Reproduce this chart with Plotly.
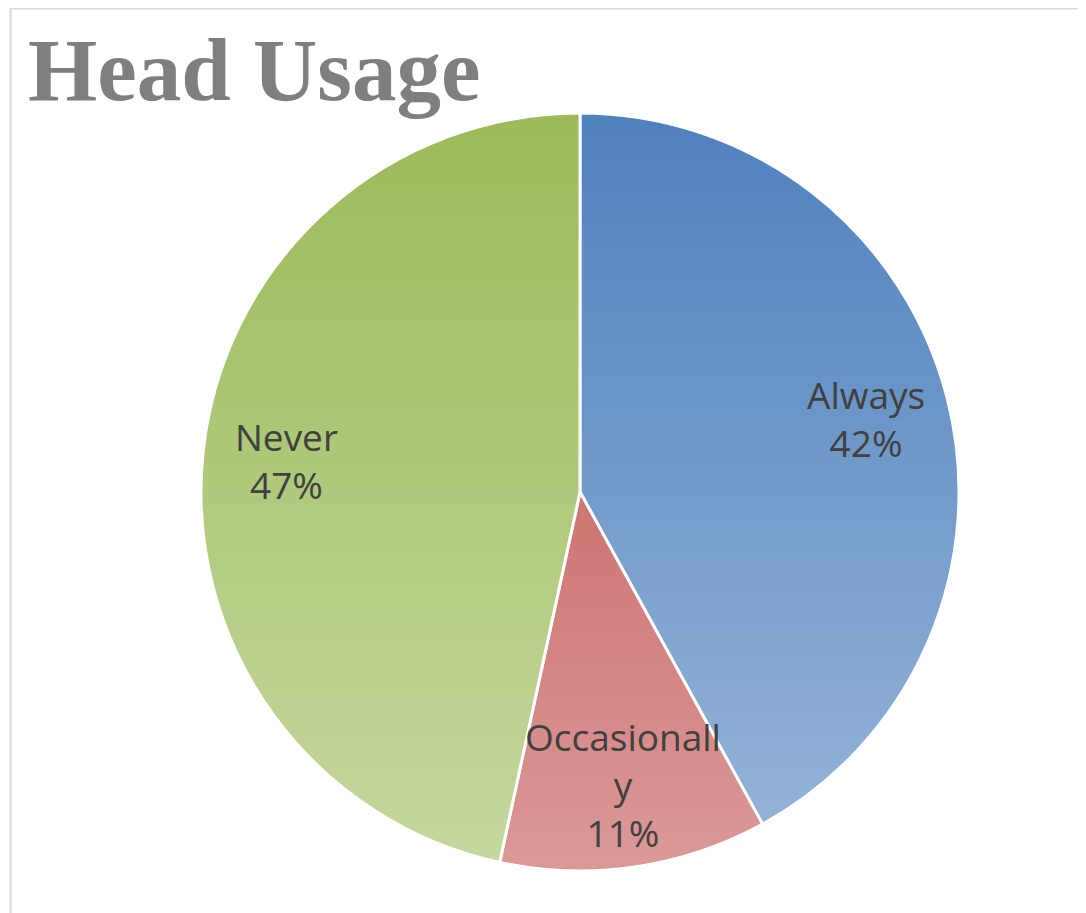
import base64
import math
import plotly.graph_objects as go

categories = ["Always", "Occasionally", "Never"]
values = [42.0, 11.4, 46.6]
label_text = ["Always<br>42%", "Occasionall<br>y<br>11%", "Never<br>47%"]
colors = ["#4F81BD", "#C0504D", "#9BBB59"]

W, H = 1086, 913
CX, CY, R = 572, 484, 379   # pie centre / radius in px (page offset already removed)
LABEL_R = 0.78

fig = go.Figure()
fig.add_trace(go.Pie(
    labels=categories,
    values=values,
    textinfo="none",
    marker=dict(colors=colors, line=dict(color="white", width=3)),
    sort=False,
    direction="clockwise",
    rotation=0,
    domain=dict(x=[(CX - R) / W, (CX + R) / W], y=[1 - (CY + R) / H, 1 - (CY - R) / H]),
    showlegend=False,
    hoverinfo="label+percent",
))

# vertical white gradient overlay to mimic the Excel gradient fill
svg = ('<svg xmlns="http://www.w3.org/2000/svg" width="100" height="100" preserveAspectRatio="none">'
       '<defs><linearGradient id="g" x1="0" y1="0" x2="0" y2="1">'
       '<stop offset="0" stop-color="#ffffff" stop-opacity="0"/>'
       '<stop offset="1" stop-color="#ffffff" stop-opacity="0.42"/>'
       '</linearGradient></defs><rect width="100" height="100" fill="url(#g)"/></svg>')
src = "data:image/svg+xml;base64," + base64.b64encode(svg.encode()).decode()
fig.add_layout_image(dict(
    source=src, xref="paper", yref="paper",
    x=(CX - R - 2) / W, y=1 - (CY - R - 2) / H,
    sizex=(2 * R + 4) / W, sizey=(2 * R + 4) / H,
    xanchor="left", yanchor="top", sizing="stretch", layer="above", opacity=1,
))

# data labels placed along each slice bisector
total = sum(values)
cum = 0
for txt, v in zip(label_text, values):
    theta = 2 * math.pi * (cum + v / 2) / total
    cum += v
    px = CX + LABEL_R * R * math.sin(theta)
    py = CY - LABEL_R * R * math.cos(theta)
    fig.add_annotation(
        text=txt, xref="paper", yref="paper", x=px / W, y=1 - py / H,
        xanchor="center", yanchor="middle", showarrow=False, align="center",
        font=dict(family="Open Sans", size=37, color="#404040"),
    )

fig.add_annotation(
    text="<b>Head Usage</b>", xref="paper", yref="paper",
    x=18 / W, y=1 - 62 / H, xanchor="left", yanchor="middle",
    showarrow=False,
    font=dict(family="Liberation Serif", size=89, color="#7F7F7F"),
)

fig.add_shape(type="rect", xref="paper", yref="paper",
              x0=2.5 / W, x1=1.05, y0=-0.05, y1=1 - 0.5 / H,
              line=dict(color="#D9D9D9", width=2), fillcolor="rgba(0,0,0,0)", layer="below")

fig.update_layout(
    width=W, height=H,
    margin=dict(l=0, r=0, t=0, b=0),
    paper_bgcolor="white",
    plot_bgcolor="white",
)

fig.write_html("out.html")
